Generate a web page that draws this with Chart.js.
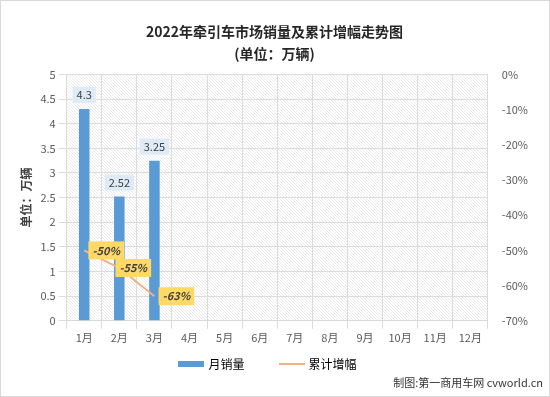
<!DOCTYPE html>
<html>
<head>
<meta charset="utf-8">
<script src="https://cdn.jsdelivr.net/npm/chart.js@4.4.1/dist/chart.umd.min.js"></script>
<style>
  html, body { margin: 0; padding: 0; background: #fff; }
  #wrap { position: relative; width: 548px; height: 395px; border: 1px solid #d9d9d9; }
  #note { position: absolute; right: 6px; bottom: 6px; font: 11px "Noto Sans CJK SC", sans-serif; color: #333; }
</style>
</head>
<body>
<div id="wrap">
  <canvas id="trendChart" width="548" height="395"></canvas>
  <div id="note">制图:第一商用车网 cvworld.cn</div>
</div>
<script>
// monthly tractor sales (10k units) and cumulative growth

const months = ['1月', '2月', '3月', '4月', '5月', '6月', '7月', '8月', '9月', '10月', '11月', '12月'];
const monthlySales = [4.3, 2.52, 3.25, null, null, null, null, null, null, null, null, null];
const cumulativeGrowth = [-0.50, -0.55, -0.63, null, null, null, null, null, null, null, null, null];
const growthLabels = ['-50%', '-55%', '-63%'];

const fontFamily = '"Noto Sans CJK SC", "Noto Sans", sans-serif';

// hatched background pattern
function makeHatch() {
  const c = document.createElement('canvas');
  c.width = 3; c.height = 3;
  const g = c.getContext('2d');
  g.strokeStyle = '#ebebeb';
  g.lineWidth = 1;
  g.beginPath();
  g.moveTo(0, 0); g.lineTo(3, 3);
  g.stroke();
  return g.createPattern(c, 'repeat');
}

// small swatch images for the legend
function swatch(w, h, color) {
  const c = document.createElement('canvas');
  c.width = w; c.height = h;
  const g = c.getContext('2d');
  g.fillStyle = color;
  g.fillRect(0, 0, w, h);
  return c;
}

const hatchPlugin = {
  id: 'hatch',
  beforeDraw(chart) {
    const a = chart.chartArea;
    const ctx = chart.ctx;
    ctx.save();
    ctx.fillStyle = makeHatch();
    ctx.fillRect(a.left, a.top, a.right - a.left, a.bottom - a.top);
    ctx.restore();
  }
};

// value boxes over the bars and next to the line points
const labelPlugin = {
  id: 'valueBoxes',
  afterDatasetsDraw(chart) {
    const ctx = chart.ctx;
    ctx.save();
    ctx.textAlign = 'center';
    ctx.textBaseline = 'middle';

    chart.getDatasetMeta(0).data.forEach((bar, i) => {
      const v = monthlySales[i];
      if (v == null) return;
      const txt = String(v);
      ctx.font = '11px ' + fontFamily;
      const w = ctx.measureText(txt).width + 8;
      const y = bar.y - 14;
      ctx.fillStyle = '#deebf7';
      ctx.fillRect(bar.x - w / 2, y - 8, w, 16);
      ctx.fillStyle = '#404040';
      ctx.fillText(txt, bar.x, y);
    });

    chart.getDatasetMeta(1).data.forEach((pt, i) => {
      if (cumulativeGrowth[i] == null) return;
      const txt = growthLabels[i];
      ctx.font = 'italic bold 11px ' + fontFamily;
      const w = ctx.measureText(txt).width + 8;
      const x = pt.x + (i === 1 ? 14 : 22);
      const y = pt.y;
      ctx.fillStyle = '#ffd966';
      ctx.fillRect(x - w / 2, y - 9, w, 18);
      ctx.fillStyle = '#404040';
      ctx.fillText(txt, x, y);
    });
    ctx.restore();
  }
};

const context = document.getElementById('trendChart').getContext('2d');
new Chart(context, {
  data: {
    labels: months,
    datasets: [
      { type: 'bar', label: '月销量', data: monthlySales, backgroundColor: '#5b9bd5',
        barPercentage: 0.3, categoryPercentage: 1, yAxisID: 'y', order: 2 },
      { type: 'line', label: '累计增幅', data: cumulativeGrowth, borderColor: '#f4b183',
        borderWidth: 2, pointRadius: 0, yAxisID: 'y2', order: 1 }
    ]
  },
  options: {
    responsive: false,
    animation: false,
    layout: { padding: { left: 14, right: 15, top: 0, bottom: 16 } },
    plugins: {
      title: { display: true, text: ['2022年牵引车市场销量及累计增幅走势图', '(单位：万辆)'],
        color: '#262626', font: { family: fontFamily, size: 14, weight: 'bold', lineHeight: 1.55 },
        padding: { top: 20, bottom: 10 } },
      legend: { position: 'bottom', labels: { color: '#595959', font: { family: fontFamily, size: 12 },
        usePointStyle: true, pointStyleWidth: 22, padding: 12,
        generateLabels(chart) {
          return [
            { text: '月销量\u3000\u3000', pointStyle: swatch(26, 6, '#5b9bd5'), lineWidth: 0, datasetIndex: 0 },
            { text: '累计增幅\u3000', pointStyle: swatch(26, 2, '#f4b183'), lineWidth: 0, datasetIndex: 1 }
          ];
        } } },
      tooltip: { enabled: false }
    },
    scales: {
      x: { grid: { color: '#dcdcdc', offset: true }, border: { color: '#d9d9d9' },
        ticks: { color: '#595959', font: { family: fontFamily, size: 11 }, padding: 2 } },
      y: { min: 0, max: 5, position: 'left',
        ticks: { stepSize: 0.5, color: '#595959', font: { family: fontFamily, size: 11 },
          callback: v => String(+v.toFixed(1)) },
        grid: { color: '#dcdcdc' }, border: { display: false },
        title: { display: true, text: '单位：万辆', color: '#404040',
          font: { family: fontFamily, size: 12, weight: 'bold' } } },
      y2: { min: -0.7, max: 0, position: 'right',
        ticks: { stepSize: 0.1, color: '#595959', font: { family: fontFamily, size: 11 }, padding: 6,
          callback: v => Math.round(v * 100) + '%' },
        grid: { display: false }, border: { display: false } }
    }
  },
  plugins: [hatchPlugin, labelPlugin]
});
</script>
</body>
</html>
